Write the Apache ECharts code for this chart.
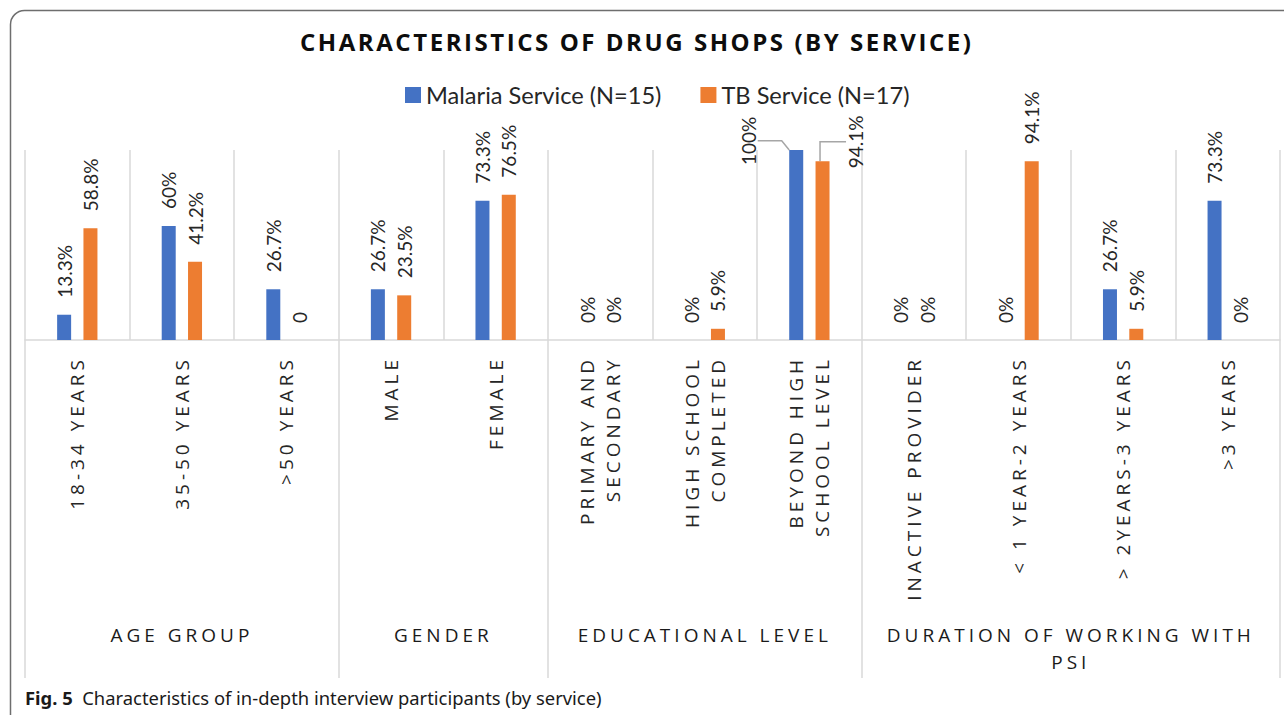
<!DOCTYPE html>
<html>
<head>
<meta charset="utf-8">
<script src="https://cdn.jsdelivr.net/npm/echarts@6/dist/echarts.min.js"></script>
<style>
html, body { margin: 0; padding: 0; background: #fff; }
#chart { width: 1284px; height: 715px; }
#chart text[style*="Open Sans"] { letter-spacing: 4px; }
#chart text[style*="Open Sans"][style*="bold"] { letter-spacing: 2.55px; }
</style>
</head>
<body>
<div id="chart"></div>
<script>
// ---- data ----
const categories = [
  '18-34 YEARS', '35-50 YEARS', '>50 YEARS',
  'MALE', 'FEMALE',
  'PRIMARY AND\nSECONDARY', 'HIGH SCHOOL\nCOMPLETED', 'BEYOND HIGH\nSCHOOL LEVEL',
  'INACTIVE PROVIDER', '< 1 YEAR-2 YEARS', '> 2YEARS-3 YEARS', '>3 YEARS'
];
const malariaValues = [13.3, 60, 26.7, 26.7, 73.3, 0, 0, 100, 0, 0, 26.7, 73.3];
const tbValues = [58.8, 41.2, 0, 23.5, 76.5, 0, 5.9, 94.1, 0, 94.1, 5.9, 0];
const malariaLabels = ['13.3%', '60%', '26.7%', '26.7%', '73.3%', '0%', '0%', '100%', '0%', '0%', '26.7%', '73.3%'];
const tbLabels = ['58.8%', '41.2%', '0', '23.5%', '76.5%', '0%', '5.9%', '94.1%', '0%', '94.1%', '5.9%', '0%'];
const groupNames = ['AGE GROUP', 'GENDER', 'EDUCATIONAL LEVEL', 'DURATION OF WORKING WITH\nPSI'];
const groupSizes = [3, 2, 3, 4];
const seriesNames = ['Malaria Service (N=15)', 'TB Service (N=17)'];

// group start indices and half-slot label positions
const groupStarts = [];
const halfSlotLabels = new Array(categories.length * 2 + 1).fill('');
let acc = 0;
groupSizes.forEach(function (n, g) {
  groupStarts.push(acc);
  halfSlotLabels[2 * acc + n] = groupNames[g];
  acc += n;
});

const grid = '#D9D9D9';
const labelFont = { fontFamily: 'Lato', fontSize: 19, color: '#262626' };

const chart = echarts.init(document.getElementById('chart'), null, { renderer: 'svg' });

function barLabel(labels) {
  return Object.assign({
    show: true, position: 'top', rotate: 90, align: 'left', verticalAlign: 'middle', distance: 17,
    formatter: function (p) { return labels[p.dataIndex]; }
  }, labelFont);
}

// label offsets are given in the rotated label frame: dx = -screenDy, dy = screenDx
chart.setOption({
  animation: false,
  title: {
    text: 'CHARACTERISTICS OF DRUG SHOPS (BY SERVICE)',
    left: 300, top: 29, padding: 0,
    textStyle: { fontFamily: 'Open Sans', fontWeight: 'bold', fontSize: 24, color: '#0d0d0d' }
  },
  legend: {
    data: seriesNames, left: 405, top: 83, padding: 0,
    icon: 'rect', itemWidth: 16, itemHeight: 16, itemGap: 39,
    textStyle: { fontFamily: 'Lato', fontSize: 23.6, color: '#262626' }
  },
  grid: { left: 25, right: 4, top: 150, bottom: 375, containLabel: false, outerBoundsMode: 'none' },
  xAxis: [
    {
      type: 'category', data: categories, position: 'bottom',
      axisLine: { show: true, lineStyle: { color: grid, width: 1.5 } },
      axisTick: {
        show: true, length: 338,
        interval: function (i) { return groupStarts.indexOf(i) >= 0; },
        lineStyle: { color: grid, width: 1.5 }
      },
      splitLine: { show: true, interval: 0, lineStyle: { color: grid, width: 1.5 } },
      axisLabel: {
        interval: 0, rotate: 90, margin: 16,
        fontFamily: 'Open Sans', fontSize: 19, lineHeight: 26, color: '#262626'
      }
    },
    {
      type: 'category', position: 'bottom', boundaryGap: false,
      data: halfSlotLabels.map(function (_, i) { return String(i); }),
      axisLine: { show: false }, axisTick: { show: false }, splitLine: { show: false },
      axisLabel: {
        interval: 0, margin: 281, align: 'center',
        formatter: function (v, i) { return halfSlotLabels[i]; },
        fontFamily: 'Open Sans', fontSize: 19, lineHeight: 27, color: '#1a1a1a'
      }
    }
  ],
  yAxis: { type: 'value', min: 0, max: 100, show: false, splitLine: { show: false } },
  series: [
    {
      name: seriesNames[0], type: 'bar', xAxisIndex: 0,
      data: malariaValues.map(function (v, i) { return i === 7 ? { value: v, labelLine: { show: true } } : v; }),
      barWidth: 14, barGap: '88%',
      itemStyle: { color: '#4472C4' },
      label: barLabel(malariaLabels),
      labelLine: { show: false, length2: 24, lineStyle: { color: '#A6A6A6', width: 1.5 } },
      labelLayout: function (p) { return p.dataIndex === 7 ? { dx: -32, dy: -48 } : {}; }
    },
    {
      name: seriesNames[1], type: 'bar', xAxisIndex: 0,
      data: tbValues.map(function (v, i) { return i === 7 ? { value: v, labelLine: { show: true } } : v; }),
      barWidth: 14,
      itemStyle: { color: '#ED7D31' },
      label: barLabel(tbLabels),
      labelLine: { show: false, length2: 26, lineStyle: { color: '#A6A6A6', width: 1.5 } },
      labelLayout: function (p) { return p.dataIndex === 7 ? { dx: -24, dy: 33 } : {}; }
    }
  ],
  graphic: [
    {
      type: 'rect', silent: true, z: -10,
      shape: { x: 10.5, y: 10.5, width: 1300, height: 720, r: 14 },
      style: { fill: 'none', stroke: '#6E6E6E', lineWidth: 1.5 }
    },
    {
      type: 'text', silent: true, x: 25, y: 697,
      style: {
        text: '{b|Fig. 5}  Characteristics of in-depth interview participants (by service)',
        fontFamily: 'Noto Sans', fontSize: 18.4, fill: '#1a1a1a', verticalAlign: 'middle',
        rich: { b: { fontFamily: 'Noto Sans', fontWeight: 'bold', fontSize: 18.4, fill: '#1a1a1a' } }
      }
    }
  ]
});
</script>
</body>
</html>
